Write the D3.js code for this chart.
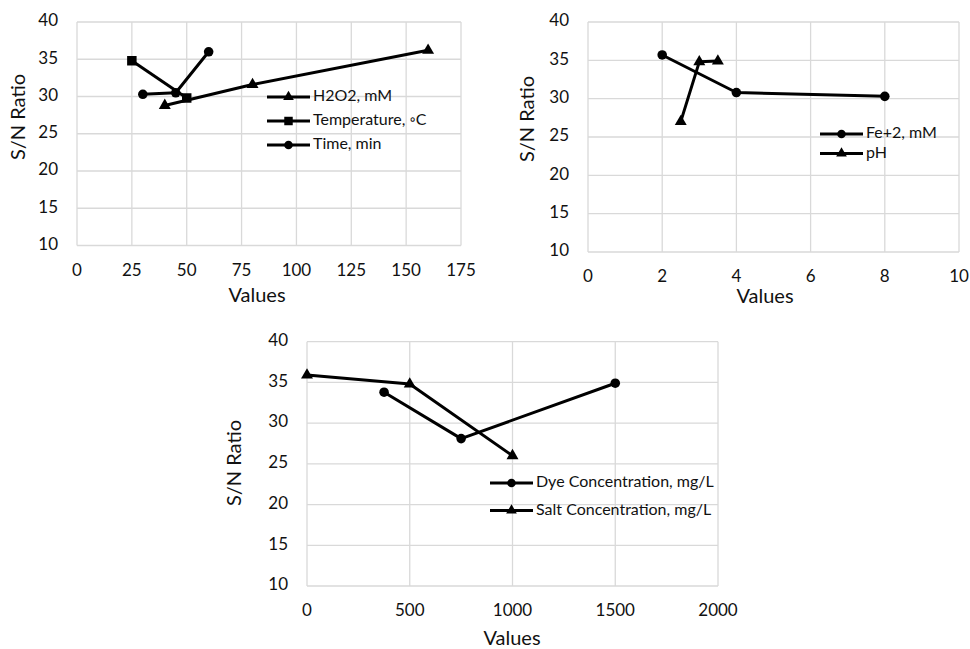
<!DOCTYPE html>
<html>
<head>
<meta charset="utf-8">
<script src="https://cdn.jsdelivr.net/npm/d3@7"></script>
<style>
  body { margin: 0; background: #fff; }
  svg { font-family: Lato, "Open Sans", sans-serif; }
</style>
</head>
<body>
<svg id="chart" width="970" height="649"></svg>
<script>
// ---- data ----
const yTicks = [10, 15, 20, 25, 30, 35, 40];

// panel A
const ticksA = [0, 25, 50, 75, 100, 125, 150, 175];
const h2o2 = [{x: 40, y: 28.8}, {x: 80, y: 31.6}, {x: 160, y: 36.2}];
const temperature = [{x: 25, y: 34.8}, {x: 50, y: 29.8}];
const time = [{x: 30, y: 30.3}, {x: 45, y: 30.5}, {x: 60, y: 36.0}];

// panel B
const ticksB = [0, 2, 4, 6, 8, 10];
const fe2 = [{x: 2, y: 35.7}, {x: 4, y: 30.8}, {x: 8, y: 30.3}];
const ph = [{x: 2.5, y: 27.0}, {x: 3, y: 34.8}, {x: 3.5, y: 34.9}];

// panel C
const ticksC = [0, 500, 1000, 1500, 2000];
const dye = [{x: 375, y: 33.8}, {x: 750, y: 28.1}, {x: 1500, y: 34.9}];
const salt = [{x: 0, y: 35.9}, {x: 500, y: 34.8}, {x: 1000, y: 26.0}];

const svg = d3.select("#chart");

const SYM = {
    triangle: {type: d3.symbolTriangle, size: 62},
    square: {type: d3.symbolSquare, size: 90},
    circle: {type: d3.symbolCircle, size: 72}
};

function drawPanel(p) {
    let g = svg.append("g");

    let x = d3.scaleLinear().domain(p.xDomain).range([p.left, p.right]);
    let y = d3.scaleLinear().domain([10, 40]).range([p.bottom, p.top]);

    // grid
    g.selectAll(".vgrid").data(p.xTicks).enter()
        .append("line")
        .attr("x1", d => x(d)).attr("x2", d => x(d))
        .attr("y1", p.top).attr("y2", p.bottom)
        .attr("stroke", "#d9d9d9").attr("stroke-width", 1.3);
    g.selectAll(".hgrid").data(yTicks).enter()
        .append("line")
        .attr("x1", p.left).attr("x2", p.right)
        .attr("y1", d => y(d)).attr("y2", d => y(d))
        .attr("stroke", "#d9d9d9").attr("stroke-width", 1.3);

    // tick labels
    g.selectAll(".xt").data(p.xTicks).enter()
        .append("text")
        .attr("x", d => x(d)).attr("y", p.bottom + 26)
        .attr("text-anchor", "middle").attr("dominant-baseline", "middle")
        .attr("font-size", 17).attr("fill", "#111")
        .text(d => d);
    g.selectAll(".yt").data(yTicks).enter()
        .append("text")
        .attr("x", p.left - 19).attr("y", d => y(d))
        .attr("text-anchor", "end").attr("dominant-baseline", "middle")
        .attr("font-size", 17).attr("fill", "#111")
        .text(d => d);

    // axis titles
    g.append("text")
        .attr("x", p.xTitle[0]).attr("y", p.xTitle[1])
        .attr("text-anchor", "middle").attr("dominant-baseline", "middle")
        .attr("font-size", 20).attr("fill", "#111")
        .text("Values");
    g.append("text")
        .attr("transform", `translate(${p.yTitle[0]},${p.yTitle[1]}) rotate(-90)`)
        .attr("text-anchor", "middle").attr("dominant-baseline", "middle")
        .attr("font-size", 20).attr("fill", "#111")
        .text("S/N Ratio");

    let line = d3.line().x(d => x(d.x)).y(d => y(d.y));

    p.series.forEach(s => {
        g.append("path")
            .datum(s.data)
            .attr("d", line)
            .attr("fill", "none").attr("stroke", "#000")
            .attr("stroke-width", 3).attr("stroke-linejoin", "round");
        let sym = d3.symbol().type(SYM[s.marker].type).size(SYM[s.marker].size);
        g.selectAll(null).data(s.data).enter()
            .append("path")
            .attr("d", sym)
            .attr("transform", d => `translate(${x(d.x)},${y(d.y)})`)
            .attr("fill", "#000");
    });

    // legend
    p.series.forEach((s, i) => {
        let ly = p.legend.y + i * p.legend.step;
        let lx = p.legend.x;
        g.append("line")
            .attr("x1", lx).attr("x2", lx + 43)
            .attr("y1", ly).attr("y2", ly)
            .attr("stroke", "#000").attr("stroke-width", 3);
        let sym = d3.symbol().type(SYM[s.marker].type).size(SYM[s.marker].size * 0.8);
        g.append("path")
            .attr("d", sym)
            .attr("transform", `translate(${lx + 21.5},${ly})`)
            .attr("fill", "#000");
        g.append("text")
            .attr("x", lx + 46).attr("y", ly)
            .attr("dominant-baseline", "middle")
            .attr("font-size", 16).attr("fill", "#111")
            .text(s.name);
    });
}

drawPanel({
    left: 77, right: 461, top: 22, bottom: 245.5,
    xDomain: [0, 175], xTicks: ticksA,
    xTitle: [257, 297], yTitle: [20, 117],
    legend: {x: 267, y: 97, step: 24},
    series: [
        {name: "H2O2, mM", data: h2o2, marker: "triangle"},
        {name: "Temperature, \u25E6C", data: temperature, marker: "square"},
        {name: "Time, min", data: time, marker: "circle"}
    ]
});

drawPanel({
    left: 588, right: 959, top: 22, bottom: 252,
    xDomain: [0, 10], xTicks: ticksB,
    xTitle: [765, 298], yTitle: [529, 119],
    legend: {x: 820, y: 134, step: 19.5},
    series: [
        {name: "Fe+2, mM", data: fe2, marker: "circle"},
        {name: "pH", data: ph, marker: "triangle"}
    ]
});

drawPanel({
    left: 307, right: 718, top: 341.7, bottom: 586,
    xDomain: [0, 2000], xTicks: ticksC,
    xTitle: [512, 640], yTitle: [236, 463],
    legend: {x: 490, y: 483, step: 27.5},
    series: [
        {name: "Dye Concentration, mg/L", data: dye, marker: "circle"},
        {name: "Salt Concentration, mg/L", data: salt, marker: "triangle"}
    ]
});
</script>
</body>
</html>
